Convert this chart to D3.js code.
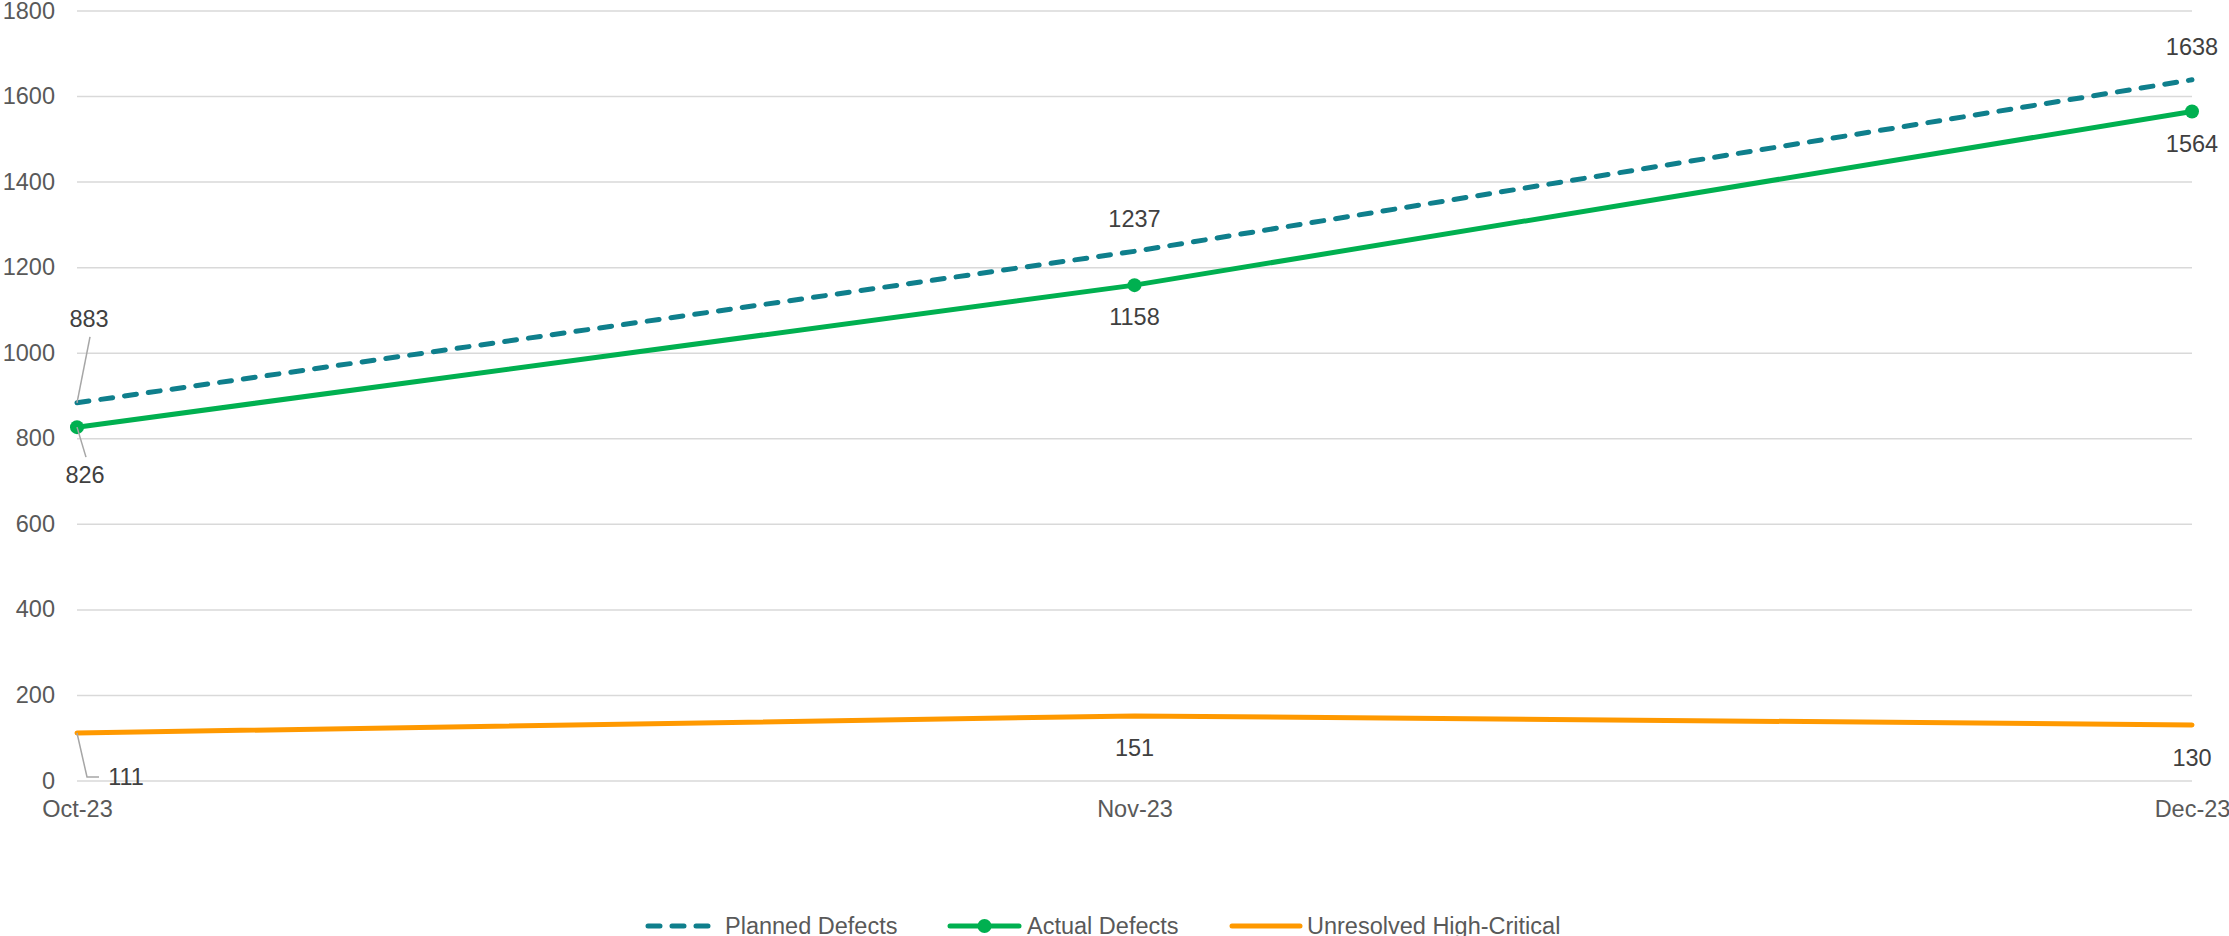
<!DOCTYPE html>
<html>
<head>
<meta charset="utf-8">
<script src="https://cdn.jsdelivr.net/npm/d3@7"></script>
<style>
  html, body { margin: 0; padding: 0; background: #fff; }
  svg { display: block; font-family: "Liberation Sans", Arial, sans-serif; }
</style>
</head>
<body>
<svg id="chart" width="2229" height="936"></svg>
<script>
// ---- data ----
const categories = ["Oct-23", "Nov-23", "Dec-23"];
const plannedDefects = [883, 1237, 1638];
const actualDefects = [826, 1158, 1564];
const unresolvedHighCritical = [111, 151, 130];
const yTicks = [0, 200, 400, 600, 800, 1000, 1200, 1400, 1600, 1800];
const seriesNames = ["Planned Defects", "Actual Defects", "Unresolved High-Critical"];

// ---- layout / style ----
const plotLeft = 77, plotRight = 2192, plotTop = 10.5, plotBottom = 780.5;
const FONT = 23.5;
const colors = { planned: "#0F7F8C", actual: "#00B050", unresolved: "#FF9900" };

const svg = d3.select("#chart");
const x = d3.scalePoint().domain(categories).range([plotLeft, plotRight]);
const y = d3.scaleLinear().domain([0, 1800]).range([plotBottom, plotTop]);

// y axis + gridlines
const yAxis = svg.append("g")
  .attr("transform", `translate(${plotLeft},0)`)
  .call(d3.axisLeft(y).tickValues(yTicks).tickSize(-(plotRight - plotLeft)).tickPadding(22).tickFormat(d3.format("d")));
yAxis.select(".domain").remove();
yAxis.selectAll(".tick line").attr("stroke", "#D9D9D9").attr("stroke-width", 1.5);
yAxis.selectAll(".tick text").attr("fill", "#595959").attr("font-size", FONT).attr("font-family", "Liberation Sans, Arial, sans-serif");

// x axis
const xAxis = svg.append("g")
  .attr("transform", `translate(0,${plotBottom})`)
  .call(d3.axisBottom(x).tickSize(0).tickPadding(20));
xAxis.select(".domain").remove();
xAxis.selectAll(".tick text").attr("fill", "#595959").attr("font-size", FONT).attr("font-family", "Liberation Sans, Arial, sans-serif");

const line = d3.line().x((d, i) => x(categories[i])).y(d => y(d));

// series lines
svg.append("path").datum(unresolvedHighCritical)
  .attr("d", line).attr("fill", "none").attr("stroke", colors.unresolved)
  .attr("stroke-width", 5).attr("stroke-linecap", "round").attr("stroke-linejoin", "round");

svg.append("path").datum(plannedDefects)
  .attr("d", line).attr("fill", "none").attr("stroke", colors.planned)
  .attr("stroke-width", 5).attr("stroke-dasharray", "12,12").attr("stroke-linecap", "round");

svg.append("path").datum(actualDefects)
  .attr("d", line).attr("fill", "none").attr("stroke", colors.actual)
  .attr("stroke-width", 5).attr("stroke-linecap", "round").attr("stroke-linejoin", "round");

svg.selectAll("circle.actual").data(actualDefects).enter().append("circle")
  .attr("class", "actual")
  .attr("cx", (d, i) => x(categories[i])).attr("cy", d => y(d))
  .attr("r", 7).attr("fill", colors.actual);

// data labels: offset from point (dx, dy = label center offset), optional leader
const labelGroups = [
  { values: plannedDefects, offsets: [[12, -84], [0, -32], [0, -32.5]], leader: [[[13, -66], [0, 0]], null, null] },
  { values: actualDefects, offsets: [[8, 48], [0, 32], [0, 33]], leader: [[[0, 0], [9, 30]], null, null] },
  { values: unresolvedHighCritical, offsets: [[49, 44], [0, 32.5], [0, 33]], leader: [[[0, 0], [10, 44], [22, 44]], null, null] }
];

labelGroups.forEach(g => {
  g.values.forEach((v, i) => {
    const px = x(categories[i]), py = y(v);
    const [dx, dy] = g.offsets[i];
    if (g.leader[i]) {
      svg.append("path")
        .attr("d", d3.line()(g.leader[i].map(p => [px + p[0], py + p[1]])))
        .attr("fill", "none").attr("stroke", "#A6A6A6").attr("stroke-width", 1.5);
    }
    svg.append("text")
      .attr("x", px + dx).attr("y", py + dy)
      .attr("text-anchor", "middle").attr("dominant-baseline", "central")
      .attr("fill", "#404040").attr("font-size", FONT)
      .text(v);
  });
});

// legend
const legendY = 926;
const legend = svg.append("g");
const legendItems = [
  { name: seriesNames[0], x0: 648, x1: 710, tx: 725, color: colors.planned, dash: true, dot: false },
  { name: seriesNames[1], x0: 950, x1: 1019, tx: 1027, color: colors.actual, dash: false, dot: true },
  { name: seriesNames[2], x0: 1232, x1: 1300, tx: 1307, color: colors.unresolved, dash: false, dot: false }
];
legendItems.forEach(it => {
  const ln = legend.append("line")
    .attr("x1", it.x0).attr("x2", it.x1).attr("y1", legendY).attr("y2", legendY)
    .attr("stroke", it.color).attr("stroke-width", 5).attr("stroke-linecap", "round");
  if (it.dash) ln.attr("stroke-dasharray", "12,12");
  if (it.dot) legend.append("circle").attr("cx", (it.x0 + it.x1) / 2).attr("cy", legendY).attr("r", 7).attr("fill", it.color);
  legend.append("text").attr("x", it.tx).attr("y", legendY).attr("dominant-baseline", "central")
    .attr("fill", "#595959").attr("font-size", FONT).text(it.name);
});
</script>
</body>
</html>
